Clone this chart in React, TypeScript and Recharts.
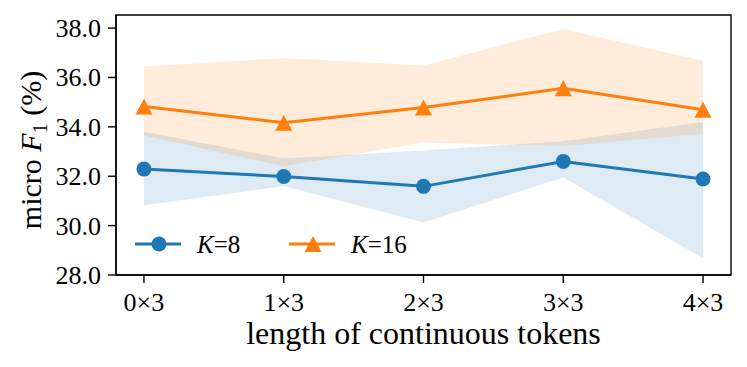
import React from 'react';
import { ComposedChart, Area, Line, XAxis, YAxis, ReferenceArea } from 'recharts';

const categories = ['0×3', '1×3', '2×3', '3×3', '4×3'];
const k8Mean = [32.29, 31.99, 31.59, 32.6, 31.89];
const k8Low = [30.82, 31.6, 30.13, 31.95, 28.68];
const k8High = [33.8, 32.72, 33.04, 33.42, 34.2];
const k16Mean = [34.82, 34.17, 34.78, 35.56, 34.69];
const k16Low = [33.65, 32.4, 33.37, 33.22, 33.72];
const k16High = [36.44, 36.79, 36.48, 37.96, 36.68];
const yTicks = [28, 30, 32, 34, 36, 38];

const BLUE = '#1f77b4';
const ORANGE = '#ff7f0e';
const FONT = 'Liberation Serif, DejaVu Serif, serif';

const data = categories.map((c, i) => ({
  x: i,
  k8: k8Mean[i],
  k8Band: [k8Low[i], k8High[i]],
  k16: k16Mean[i],
  k16Band: [k16Low[i], k16High[i]],
}));

const Triangle = (props: any) => {
  const { cx, cy } = props;
  if (cx == null || cy == null) return null;
  return <polygon points={`${cx},${cy - 8} ${cx - 8.5},${cy + 8} ${cx + 8.5},${cy + 8}`} fill={ORANGE} />;
};

// custom ticks so the serif font is surely applied
const XTick = (props: any) => {
  const { x, y, payload } = props;
  return (
    <text x={x} y={y + 20} textAnchor="middle" fontSize={26} fontFamily={FONT} fill="#000">
      {categories[payload.value]}
    </text>
  );
};

const YTick = (props: any) => {
  const { x, y, payload } = props;
  return (
    <text x={x} y={y + 9} textAnchor="end" fontSize={26} fontFamily={FONT} fill="#000">
      {Number(payload.value).toFixed(1)}
    </text>
  );
};

const YLabel = (props: any) => {
  const vb = props.viewBox || { x: 0, y: 15, width: 116, height: 260 };
  const cx = 41;
  const cy = vb.y + vb.height / 2 + 5;
  return (
    <text transform={`translate(${cx},${cy}) rotate(-90)`} textAnchor="middle" fontSize={30} fontFamily={FONT} fill="#000">
      micro <tspan fontStyle="italic">F</tspan>
      <tspan fontSize={20} dy={6}>1</tspan>
      <tspan dy={-6}> (%)</tspan>
    </text>
  );
};

const XLabel = (props: any) => {
  const vb = props.viewBox || { x: 116, y: 275, width: 615, height: 92 };
  return (
    <text x={vb.x + vb.width / 2} y={344} textAnchor="middle" fontSize={32} fontFamily={FONT} fill="#000">
      length of continuous tokens
    </text>
  );
};

const LegendBox = () => (
  <svg width={300} height={26} style={{ position: 'absolute', left: 134, top: 231 }}>
    <line x1={1} y1={13} x2={47} y2={13} stroke={BLUE} strokeWidth={3} />
    <circle cx={25} cy={13} r={7.5} fill={BLUE} />
    <text x={63} y={22} fontSize={25} fontFamily={FONT} fill="#000">
      <tspan fontStyle="italic">K</tspan>=8
    </text>
    <line x1={155} y1={13} x2={201} y2={13} stroke={ORANGE} strokeWidth={3} />
    <polygon points="179,5 170.5,21 187.5,21" fill={ORANGE} />
    <text x={217} y={22} fontSize={25} fontFamily={FONT} fill="#000">
      <tspan fontStyle="italic">K</tspan>=16
    </text>
  </svg>
);

export default function App() {
  return (
    <div style={{ position: 'absolute', left: 0, top: 0, width: 747, height: 367, background: '#fff' }}>
      <ComposedChart width={747} height={367} data={data} margin={{ top: 15, right: 16, bottom: 0, left: 0 }}>
        <Area type="linear" dataKey="k8Band" stroke="none" fill={BLUE} fillOpacity={0.15} isAnimationActive={false} legendType="none" />
        <Area type="linear" dataKey="k16Band" stroke="none" fill={ORANGE} fillOpacity={0.15} isAnimationActive={false} legendType="none" />
        <Line type="linear" dataKey="k8" stroke={BLUE} strokeWidth={3} dot={{ r: 7.5, fill: BLUE, stroke: 'none' }} isAnimationActive={false} />
        <Line type="linear" dataKey="k16" stroke={ORANGE} strokeWidth={3} dot={<Triangle />} isAnimationActive={false} />
        <ReferenceArea x1={-0.2} x2={4.2} y1={28} y2={38.53} fill="none" stroke="#000" strokeWidth={1.4} ifOverflow="visible" />
        <XAxis
          dataKey="x"
          type="number"
          domain={[-0.2, 4.2]}
          ticks={[0, 1, 2, 3, 4]}
          height={92}
          tickSize={8}
          tickMargin={8}
          tick={<XTick />}
          tickLine={{ stroke: '#000', strokeWidth: 1.4 }}
          axisLine={{ stroke: '#000', strokeWidth: 1.4 }}
          label={<XLabel />}
        />
        <YAxis
          type="number"
          domain={[28, 38.53]}
          ticks={yTicks}
          width={116}
          tickSize={8}
          tickMargin={7}
          allowDataOverflow
          tick={<YTick />}
          tickLine={{ stroke: '#000', strokeWidth: 1.4 }}
          axisLine={{ stroke: '#000', strokeWidth: 1.4 }}
          label={<YLabel />}
        />
      </ComposedChart>
      <LegendBox />
    </div>
  );
}
